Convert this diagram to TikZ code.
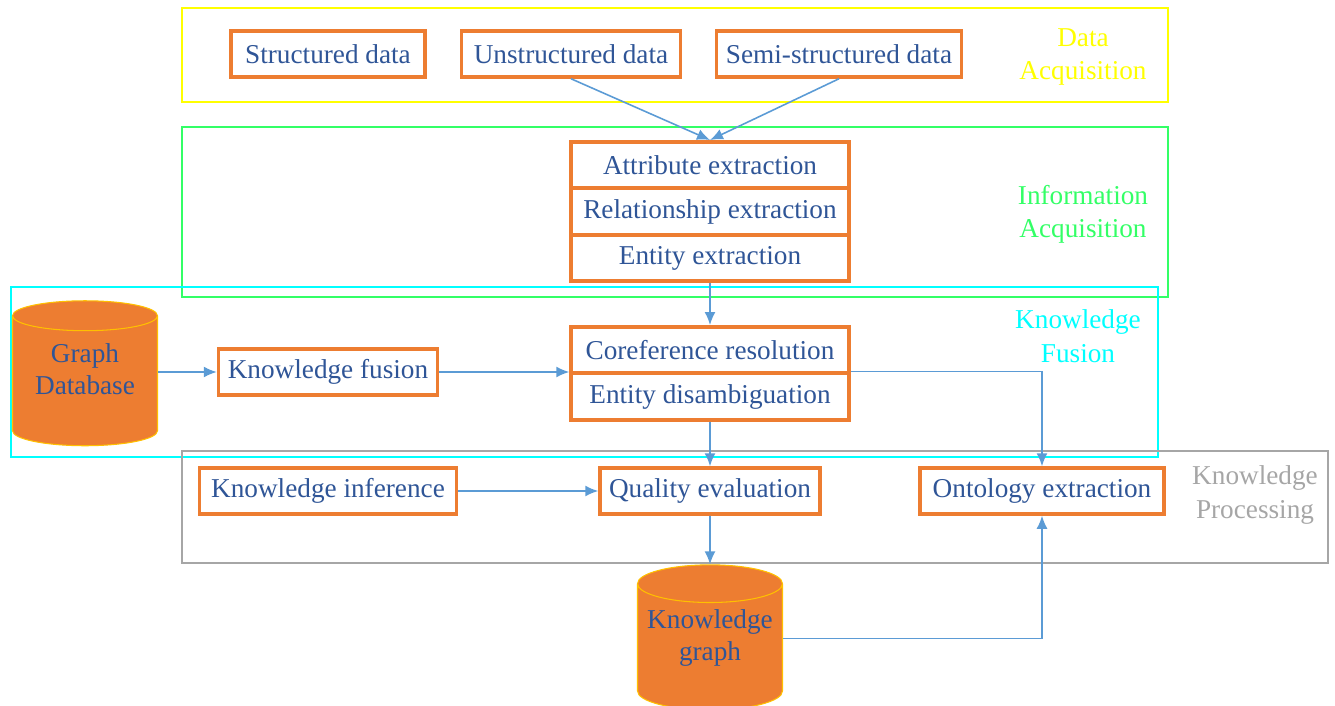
\documentclass[tikz,border=0pt]{standalone}
\usepackage{fontspec}
\setmainfont{Liberation Serif}
\usetikzlibrary{arrows.meta,shapes.geometric}

\definecolor{boxorange}{HTML}{ED7D31}
\definecolor{textblue}{HTML}{2F5597}
\definecolor{arrowblue}{HTML}{5B9BD5}
\definecolor{frameyellow}{HTML}{FFFF00}
\definecolor{framegreen}{HTML}{33FF66}
\definecolor{framecyan}{HTML}{00FFFF}
\definecolor{framegray}{HTML}{A6A6A6}
\definecolor{cylrim}{HTML}{FFC000}

% two lines, lifted towards the top of the cylinder
\newcommand{\storelines}[2]{\raisebox{0pt}[\height][\dimexpr\depth+0.36cm\relax]{\begin{tabular}{@{}c@{}}#1\\#2\end{tabular}}}

\tikzset{
  stepbox/.style = {draw=boxorange, line width=2pt, fill=white, text=textblue,
                    font=\fontsize{15.5}{18}\selectfont, minimum height=0.92cm,
                    inner xsep=0pt},
  stackbox/.style = {stepbox, minimum width=5.56cm, minimum height=0.93cm},
  store/.style = {cylinder, shape border rotate=90, aspect=0.3, draw=cylrim,
                  line width=0.6pt, fill=boxorange, text=textblue,
                  font=\fontsize{15.5}{18.5}\selectfont,
                  minimum width=2.9cm, minimum height=2.9cm, inner sep=0pt},
  stage/.style = {line width=1.1pt},
  stagelabel/.style = {align=center, font=\fontsize{15.5}{19}\selectfont},
  flow/.style = {draw=arrowblue, line width=0.9pt,
                 -{Latex[length=0.26cm,width=0.22cm]}}
}

\begin{document}
\begin{tikzpicture}[x=0.02cm, y=-0.02cm]
\useasboundingbox (0,0) rectangle (1335,706);

% stage frames
\draw[stage, draw=frameyellow] (182,8) rectangle (1168,102);
\draw[stage, draw=framegreen] (182,127) rectangle (1168,297);
\draw[stage, draw=framecyan] (11,287) rectangle (1158,457);
\draw[stage, draw=framegray] (182,451) rectangle (1328,563);

\node[stagelabel, text=frameyellow] (lbldata) at (1083,57) {Data\\Acquisition};
\node[stagelabel, text=framegreen] (lblinfo) at (1083,214.5) {Information\\Acquisition};
\node[stagelabel, text=framecyan] (lblfusion) at (1078,336) {Knowledge\\Fusion};
\node[stagelabel, text=framegray] (lblproc) at (1255,495) {Knowledge\\Processing};

% data sources
\node[stepbox, minimum width=3.88cm] (structured) at (328,54) {Structured data};
\node[stepbox, minimum width=4.38cm] (unstructured) at (571,54) {Unstructured data};
\node[stepbox, minimum width=4.9cm] (semi) at (839,54) {Semi-structured data};

% extraction
\node[stackbox] (attr) at (710,165) {Attribute extraction};
\node[stackbox] (rel) at (710,211.5) {Relationship extraction};
\node[stackbox] (entity) at (710,258) {Entity extraction};

% fusion
\node[store] (graphdb) at (85,381) {\storelines{Graph}{Database}};
\node[stepbox, minimum width=4.38cm] (fusion) at (328,372) {Knowledge fusion};
\node[stackbox] (coref) at (710,350) {Coreference resolution};
\node[stackbox] (disamb) at (710,396.5) {Entity disambiguation};

% processing
\node[stepbox, minimum width=5.14cm] (inference) at (328,491) {Knowledge inference};
\node[stepbox, minimum width=4.4cm] (quality) at (710,491) {Quality evaluation};
\node[stepbox, minimum width=4.88cm] (ontology) at (1042,491) {Ontology extraction};
\node[store] (kg) at (710,647) {\storelines{Knowledge}{graph}};

% connectors
\draw[flow] (unstructured.south) -- (attr.north);
\draw[flow] (semi.south) -- (attr.north);
\draw[flow] (entity.south) -- (coref.north);
\draw[flow] (graphdb.east |- fusion.west) -- (fusion.west);
\draw[flow] (fusion.east) -- (fusion.east -| coref.west);
\draw[flow] ([yshift=2pt]coref.south east) -| (ontology.north);
\draw[flow] (disamb.south) -- (quality.north);
\draw[flow] (inference.east) -- (quality.west);
\draw[flow] (quality.south) -- (kg.north);
\draw[flow] ([yshift=0.17cm]kg.east) -| (ontology.south);

\end{tikzpicture}
\end{document}
